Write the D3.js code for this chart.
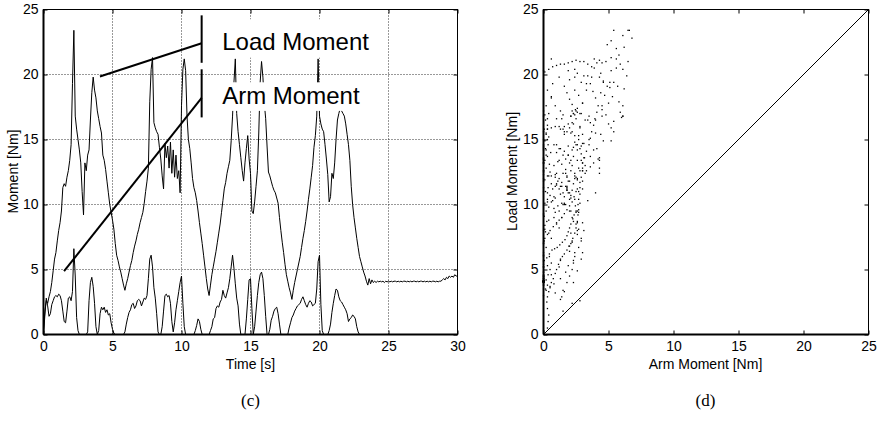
<!DOCTYPE html>
<html>
<head>
<meta charset="utf-8">
<script src="https://cdn.jsdelivr.net/npm/d3@7"></script>
<style>
body { margin: 0; background: #fff; }
text { font-family: "Liberation Sans", Arial, sans-serif; fill: #000; }
.caption { font-family: "Liberation Serif", "Times New Roman", serif; }
</style>
</head>
<body>
<div id="chart"></div>
<script>
// sample step of the recorded moments [s]
const dt = 0.1;

// load moment [Nm], one value every 0.1 s from 0 to 30 s
const loadMoment = [
  0.3, 1.8, 2.6, 2.4, 2.9, 3.3, 4.0, 4.9, 5.8, 6.3,
  7.2, 8.0, 8.6, 9.5, 11.3, 11.6, 11.4, 12.1, 12.6, 13.4,
  14.6, 19.3, 23.4, 16.8, 15.8, 15.0, 14.2, 13.2, 11.0, 9.2,
  13.2, 12.6, 13.8, 14.2, 16.5, 18.6, 19.8, 18.8, 18.2, 17.2,
  16.6, 16.0, 15.5, 13.8, 13.4, 12.7, 11.8, 10.9, 10.0, 9.4,
  8.8, 8.1, 7.0, 6.1, 5.7, 5.2, 4.8, 4.3, 3.8, 3.4,
  3.9, 4.3, 4.8, 5.3, 5.7, 6.3, 6.8, 7.2, 7.7, 8.1,
  8.6, 9.0, 9.4, 10.1, 11.0, 11.8, 12.8, 17.9, 20.4, 21.3,
  16.3, 15.9, 15.6, 15.4, 14.4, 13.5, 12.2, 11.2, 14.7, 13.6,
  14.5, 12.8, 14.8, 12.4, 14.2, 12.1, 13.8, 12.0, 12.6, 10.9,
  17.6, 20.4, 21.2, 20.3, 16.8, 15.0, 14.3, 13.2, 12.0, 11.3,
  10.9, 10.3, 9.5, 8.6, 7.8, 7.0, 6.1, 5.2, 4.3, 3.5,
  3.0, 3.8, 4.6, 5.2, 5.8, 6.4, 7.1, 7.8, 8.5, 9.4,
  10.3, 11.2, 11.7, 12.4, 12.9, 13.4, 14.9, 16.8, 19.4, 21.2,
  17.0, 15.6, 14.6, 13.6, 12.6, 11.8, 13.2, 14.3, 15.3, 13.5,
  12.4, 9.5, 9.3, 10.2, 11.4, 12.6, 15.5, 19.4, 21.0, 19.8,
  17.8, 16.6, 14.5, 12.5, 12.2, 11.8, 11.4, 11.1, 10.9, 10.5,
  10.1, 9.0, 8.0, 7.1, 6.3, 5.4, 4.6, 4.1, 3.6, 3.2,
  2.7, 3.4, 4.0, 4.5, 5.0, 5.5, 6.0, 6.7, 7.4, 8.0,
  8.7, 9.5, 10.4, 11.2, 12.1, 13.0, 14.4, 15.3, 16.8, 21.2,
  16.8, 16.2, 15.8, 15.6, 14.6, 13.5, 12.3, 10.2, 10.6, 12.4,
  12.0, 13.2, 15.0, 16.5, 17.0, 17.4, 17.2, 17.0, 16.8, 16.2,
  15.4, 14.6, 13.4, 11.4, 10.0, 9.0, 8.2, 7.4, 6.7, 6.0,
  5.6, 5.2, 4.8, 4.5, 4.1, 3.8, 4.3, 3.9, 4.2, 4.0,
  4.1, 4.0, 4.1, 4.05, 4.1, 4.05, 4.1, 4.0, 4.1, 4.05,
  4.1, 4.05, 4.1, 4.05, 4.1, 4.1, 4.05, 4.1, 4.05, 4.1,
  4.05, 4.1, 4.1, 4.05, 4.1, 4.05, 4.1, 4.05, 4.1, 4.1,
  4.05, 4.1, 4.05, 4.1, 4.1, 4.05, 4.1, 4.05, 4.1, 4.05,
  4.1, 4.05, 4.1, 4.1, 4.05, 4.1, 4.05, 4.1, 4.1, 4.2,
  4.3, 4.2, 4.4, 4.3, 4.5, 4.4, 4.5, 4.4, 4.6, 4.5,
  4.5
];

// arm moment [Nm], same time base
const armMoment = [
  0, 1.5, 2.8, 2.2, 1.4, 1.6, 2.3, 2.6, 2.9, 3.0,
  2.9, 3.1, 3.0, 2.6, 1.8, 1.0, 0.9, 1.8, 2.8, 2.9,
  2.6, 3.3, 6.6, 4.5, 1.3, 0.3, 0, 0, 0, 0,
  0, 0, 0.2, 2.6, 4.0, 4.4, 3.7, 2.4, 0.6, 0,
  0.3, 1.6, 2.1, 1.9, 2.1, 1.7, 1.9, 1.5, 1.6, 0.9,
  0.4, 0.1, 0, 0, 0, 0, 0, 0, 0, 0.2,
  0.8, 1.3, 1.7, 1.9, 2.3, 2.4, 2.0, 2.2, 2.6, 2.7,
  2.6, 2.2, 2.5, 2.8, 2.7, 3.0, 4.3, 5.8, 6.1, 5.2,
  3.6, 2.8, 1.6, 0.2, 0, 0, 0.6, 1.8, 3.0, 3.1,
  2.9, 3.0, 2.4, 1.0, 0.2, 0.9, 1.9, 2.6, 3.3, 4.0,
  4.5, 2.4, 0.6, 0, 0, 0, 0, 0, 0, 0,
  0.3, 0.7, 1.2, 1.0, 0.4, 0, 0, 0, 0, 0,
  0, 0.3, 0.6, 1.2, 1.3, 2.0, 2.2, 2.1, 2.5, 2.7,
  3.4, 3.0, 2.8, 3.2, 3.6, 4.3, 5.2, 6.1, 5.1, 3.9,
  2.8, 2.2, 0.8, 0, 0, 0, 0, 1.2, 2.7, 4.2,
  4.3, 2.0, 0, 0.6, 1.8, 3.0, 4.0, 4.6, 4.8, 4.3,
  3.0, 1.4, 0, 0, 0.4, 1.1, 1.4, 1.8, 2.0, 2.1,
  1.6, 0.8, 0, 0, 0, 0, 0, 0, 0.5, 0.9,
  1.3, 1.5, 1.8, 2.0, 2.2, 2.3, 2.4, 2.7, 2.9, 2.6,
  2.3, 2.1, 2.4, 2.6, 2.5, 2.2, 2.3, 2.4, 3.5, 5.6,
  6.1, 2.3, 0.3, 0, 0, 0, 0, 0.3, 0.8, 1.7,
  2.4, 3.0, 3.5, 3.4, 2.9, 2.6, 2.5, 2.3, 2.1, 1.9,
  1.6, 1.0, 1.2, 1.3, 1.5, 1.4, 1.2, 0.6, 0.2, 0,
  0, 0, 0, 0, 0, 0, 0, 0, 0, 0,
  0, 0, 0, 0, 0, 0, 0, 0, 0, 0,
  0, 0, 0, 0, 0, 0, 0, 0, 0, 0,
  0, 0, 0, 0, 0, 0, 0, 0, 0, 0,
  0, 0, 0, 0, 0, 0, 0, 0, 0, 0,
  0, 0, 0, 0, 0, 0, 0, 0, 0, 0,
  0, 0, 0, 0, 0, 0, 0, 0, 0, 0,
  0
];

// further [arm, load] samples, between the 0.1 s samples
const scatterExtra = [
  // start-up trail
  [0.3,0.5],[0.35,1.0],[0.4,1.5],[0.3,2.0],[0.25,2.5],[0.3,2.9],[0.4,3.3],[0.5,3.7],
  [0.6,4.0],[0.75,4.3],[0.9,4.7],[1.0,5.0],[1.15,5.4],[1.3,5.7],[1.45,6.0],[1.6,6.2],
  [1.8,6.5],[1.95,6.8],[2.1,7.0],[2.25,7.4],[2.4,7.8],[2.5,8.2],[2.6,8.7],[2.65,9.2],
  [2.7,9.6],[2.65,10.0],[2.7,10.4],[2.8,10.8],
  [0.15,3.5],[0.2,4.2],[0.35,4.6],[0.5,5.0],[0.3,5.3],[0.6,5.5],[0.45,6.0],
  // lower branches
  [0.05,5.7],[0.25,5.9],[0.45,6.2],[0.65,6.5],[0.85,6.6],[1.05,6.7],[1.25,6.9],[1.45,7.1],
  [1.65,7.3],[1.8,7.6],[1.9,7.9],[2.0,8.2],[2.1,8.5],[2.25,8.9],[2.35,9.2],[2.5,9.5],[2.45,9.9],
  [0.1,7.4],[0.3,7.7],[0.5,8.0],[0.75,8.3],[1.0,8.5],[1.2,8.8],[1.4,9.0],[1.6,9.3],
  [1.8,9.6],[2.0,9.9],[2.2,10.2],[2.35,10.6],
  // band along the load axis
  [0.05,7.2],[0.15,7.9],[0.1,8.4],[0.25,8.7],[0.05,9.1],[0.2,9.5],[0.4,9.8],[0.1,10.1],
  [0.3,10.4],[0.5,10.7],[0.15,11.0],[0.35,11.3],[0.6,11.6],[0.1,11.9],[0.3,12.2],[0.5,12.5],
  [0.2,12.8],[0.45,13.1],[0.1,13.4],[0.3,13.7],[0.55,14.0],[0.15,14.3],[0.35,14.6],[0.1,14.9],
  [0.4,15.2],[0.2,15.5],[0.05,15.8],[0.3,16.1],[0.15,16.5],[0.1,16.9],
  // dense core
  [0.8,9.7],[1.1,9.9],[1.4,10.1],[1.7,10.0],[2.0,10.4],[0.9,10.5],[1.3,10.8],[1.6,10.6],
  [1.9,10.9],[2.2,11.1],[2.5,11.0],[2.8,11.3],[0.7,11.2],[1.0,11.5],[1.4,11.7],[1.7,11.4],
  [2.0,11.8],[2.3,11.6],[2.6,11.9],[2.9,12.1],[0.9,12.3],[1.2,12.0],[1.5,12.4],[1.8,12.2],
  [2.1,12.6],[2.4,12.4],[2.7,12.8],[3.0,12.6],[3.2,13.0],[0.8,13.0],[1.1,13.3],[1.4,13.1],
  [1.7,13.5],[2.0,13.2],[2.3,13.7],[2.6,13.4],[2.9,13.9],[1.0,14.0],[1.3,14.3],[1.6,14.1],
  [1.9,14.5],[2.2,14.2],[2.5,14.6],[2.8,14.3],[3.1,14.7],[1.8,11.1],[2.1,10.7],[2.4,12.2],
  [1.2,11.2],[1.5,13.8],
  // loops above the core
  [0.3,15.8],[0.6,15.9],[0.9,16.0],[1.2,16.0],[1.5,15.8],[1.8,15.6],[2.0,15.9],[2.2,16.3],
  [2.1,16.8],[2.3,17.0],[2.5,16.6],[2.4,16.9],[2.2,17.2],[2.6,17.1],
  [3.4,19.9],[3.6,19.3],[3.8,18.7],[4.0,18.2],[4.2,17.6],[4.1,17.1],[3.95,16.6],[3.85,16.1],
  [3.7,15.6],[3.6,15.1],[3.5,14.6],[3.3,14.1],[3.15,13.6],[3.0,13.2],
  [1.6,19.1],[1.8,18.6],[2.0,18.1],[2.2,17.7],[2.45,17.3],
  [0.6,18.3],[0.9,17.6],[1.3,17.2],[0.4,17.0],[1.0,16.6],[1.5,16.9],[2.8,16.0],[3.0,15.4],
  [2.7,15.0],[3.2,16.5],[3.0,17.8],[2.7,18.4],[3.3,18.8],[2.9,19.4],[2.4,19.8],[2.0,19.6],
  [1.2,19.8],[0.7,19.3],[0.3,18.8],[0.2,17.6],
  // top arc
  [0.1,20.2],[0.4,20.4],[0.7,20.6],[1.0,20.7],[1.3,20.8],[1.6,20.8],[1.9,20.9],[2.2,21.0],
  [2.5,21.1],[2.8,21.0],[3.1,21.0],[3.4,20.8],[3.7,20.6],[3.9,20.5],[4.1,20.9],[4.3,21.1],
  [2.6,20.1],[3.1,19.9],[1.9,20.3],
  // right flank
  [4.4,20.1],[4.6,19.5],[4.9,19.1],[5.1,19.0],[5.4,19.4],[5.7,19.1],[6.2,18.9],[6.1,17.6],
  [5.9,17.1],[6.0,16.7],[5.4,16.4],[5.0,16.2],[5.2,15.9],[5.4,15.6],[4.4,15.4],[4.6,14.9],
  [4.1,14.3],[3.85,14.2],[3.6,13.7],[3.85,13.2],[4.3,13.6],[4.7,18.4],[5.0,17.8],[5.3,18.3],
  [4.8,16.9],[4.5,17.3],[5.6,20.5],[5.9,20.8],[6.4,19.9],[5.2,20.3],[4.5,20.9],
  // peak cluster
  [6.5,23.4],[6.8,22.8],[6.1,23.0],[5.4,23.4],[4.9,22.3],[5.6,22.0],[6.5,21.0],[5.2,22.6],
  [6.2,22.1],[5.8,21.5]
];

const timeTicks = [0, 5, 10, 15, 20, 25, 30];
const momentTicks = [0, 5, 10, 15, 20, 25];
const seriesNames = ["Load Moment", "Arm Moment"];

const width = 880, height = 423;
const svg = d3.select("#chart")
    .append("svg")
    .attr("width", width)
    .attr("height", height);

// scales, panel (c) left and (d) right
const xT = d3.scaleLinear().domain([0, 30]).range([43.5, 457.5]);
const yL = d3.scaleLinear().domain([0, 25]).range([334.5, 9.5]);
const xA = d3.scaleLinear().domain([0, 25]).range([543.5, 868.5]);
const yR = d3.scaleLinear().domain([0, 25]).range([334.5, 9.5]);

// matlab style frame: box, ticks inside on all four sides
function frame(x, y, xTicks, yTicks, grid) {
    const g = svg.append("g");
    const [x0, x1] = x.range(), [y0, y1] = y.range();
    if (grid) {
        g.selectAll(".gx").data(xTicks.slice(1, -1)).enter().append("line")
            .attr("x1", d => x(d)).attr("x2", d => x(d))
            .attr("y1", y0).attr("y2", y1)
            .attr("stroke", "#333").attr("stroke-dasharray", "1,2");
        g.selectAll(".gy").data(yTicks.slice(1, -1)).enter().append("line")
            .attr("x1", x0).attr("x2", x1)
            .attr("y1", d => y(d)).attr("y2", d => y(d))
            .attr("stroke", "#333").attr("stroke-dasharray", "1,2");
    }
    g.append("g").attr("transform", `translate(0,${y0})`)
        .call(d3.axisBottom(x).tickValues(xTicks).tickSize(-4).tickPadding(7))
        .call(a => a.select(".domain").remove());
    g.append("g").attr("transform", `translate(0,${y1})`)
        .call(d3.axisTop(x).tickValues(xTicks).tickSize(-4).tickFormat(""))
        .call(a => a.select(".domain").remove());
    g.append("g").attr("transform", `translate(${x0},0)`)
        .call(d3.axisLeft(y).tickValues(yTicks).tickSize(-4).tickPadding(5))
        .call(a => a.select(".domain").remove());
    g.append("g").attr("transform", `translate(${x1},0)`)
        .call(d3.axisRight(y).tickValues(yTicks).tickSize(-4).tickFormat(""))
        .call(a => a.select(".domain").remove());
    g.selectAll(".tick text").attr("font-size", 14)
        .attr("font-family", "Liberation Sans, Arial, sans-serif");
    g.selectAll(".tick line").attr("stroke", "#000");
    g.append("rect").attr("x", x0).attr("y", y1)
        .attr("width", x1 - x0).attr("height", y0 - y1)
        .attr("fill", "none").attr("stroke", "#000").attr("stroke-width", 1);
    // bottom and left spines print heavier
    g.append("line").attr("x1", x0).attr("x2", x1).attr("y1", y0).attr("y2", y0)
        .attr("stroke", "#000").attr("stroke-width", 2);
    g.append("line").attr("x1", x0).attr("x2", x0).attr("y1", y0).attr("y2", y1)
        .attr("stroke", "#000").attr("stroke-width", 2);
    return g;
}

frame(xT, yL, timeTicks, momentTicks, true);
frame(xA, yR, momentTicks, momentTicks, false);

// ---- panel (c): time series
svg.append("clipPath").attr("id", "clipL").append("rect")
    .attr("x", 43.5).attr("y", 9.5).attr("width", 414).attr("height", 325);

const lineT = d3.line()
    .x((d, i) => xT(i * dt))
    .y(d => yL(d));

const plotL = svg.append("g").attr("clip-path", "url(#clipL)");
[loadMoment, armMoment].forEach(s => {
    plotL.append("path")
        .datum(s)
        .attr("d", lineT)
        .attr("fill", "none")
        .attr("stroke", "#000")
        .attr("stroke-width", 1);
});

// legend-like labels with pointer lines (data units)
const labelBoxes = [
    { name: seriesNames[0], t0: 11.7, t1: 23.8, v0: 24.25, v1: 21.3, tx: 12.95, ty: 21.85 },
    { name: seriesNames[1], t0: 11.7, t1: 23.8, v0: 19.4, v1: 17.2, tx: 12.95, ty: 17.7 }
];
const pointers = [
    { from: [4.09, 19.85], to: [11.46, 22.4], bar: [24.55, 20.9] },
    { from: [1.49, 4.87], to: [11.46, 18.2], bar: [20.4, 16.7] }
];

svg.selectAll(".lbox").data(labelBoxes).enter().append("rect")
    .attr("x", d => xT(d.t0)).attr("y", d => yL(d.v0))
    .attr("width", d => xT(d.t1) - xT(d.t0))
    .attr("height", d => yL(d.v1) - yL(d.v0))
    .attr("fill", "#fff");
svg.selectAll(".ltext").data(labelBoxes).enter().append("text")
    .attr("x", d => xT(d.tx)).attr("y", d => yL(d.ty))
    .attr("font-size", 24)
    .text(d => d.name);
pointers.forEach(p => {
    svg.append("line")
        .attr("x1", xT(p.from[0])).attr("y1", yL(p.from[1]))
        .attr("x2", xT(p.to[0])).attr("y2", yL(p.to[1]))
        .attr("stroke", "#000").attr("stroke-width", 2);
    svg.append("line")
        .attr("x1", xT(p.to[0])).attr("y1", yL(p.bar[0]))
        .attr("x2", xT(p.to[0])).attr("y2", yL(p.bar[1]))
        .attr("stroke", "#000").attr("stroke-width", 2);
});

// ---- panel (d): load vs arm moment
svg.append("line")
    .attr("x1", xA(0)).attr("y1", yR(0))
    .attr("x2", xA(25)).attr("y2", yR(25))
    .attr("stroke", "#000").attr("stroke-width", 1);

const pairs = armMoment.map((a, i) => [a, loadMoment[i]]).concat(scatterExtra);
svg.append("g").selectAll("rect").data(pairs).enter().append("rect")
    .attr("x", d => xA(d[0]) - 0.6)
    .attr("y", d => yR(d[1]) - 0.6)
    .attr("width", 1.3).attr("height", 1.3)
    .attr("fill", "#000");

// axis titles
svg.append("text").attr("x", 250.5).attr("y", 369).attr("text-anchor", "middle")
    .attr("font-size", 14).text("Time [s]");
svg.append("text").attr("transform", "translate(18,171.5) rotate(-90)")
    .attr("text-anchor", "middle").attr("font-size", 14).text("Moment [Nm]");
svg.append("text").attr("x", 705.5).attr("y", 369).attr("text-anchor", "middle")
    .attr("font-size", 14).text("Arm Moment [Nm]");
svg.append("text").attr("transform", "translate(517,171.5) rotate(-90)")
    .attr("text-anchor", "middle").attr("font-size", 14).text("Load Moment [Nm]");

// sub-figure captions
svg.append("text").attr("class", "caption").attr("x", 250.5).attr("y", 406)
    .attr("text-anchor", "middle").attr("font-size", 17).text("(c)");
svg.append("text").attr("class", "caption").attr("x", 705.5).attr("y", 406)
    .attr("text-anchor", "middle").attr("font-size", 17).text("(d)");
</script>
</body>
</html>
